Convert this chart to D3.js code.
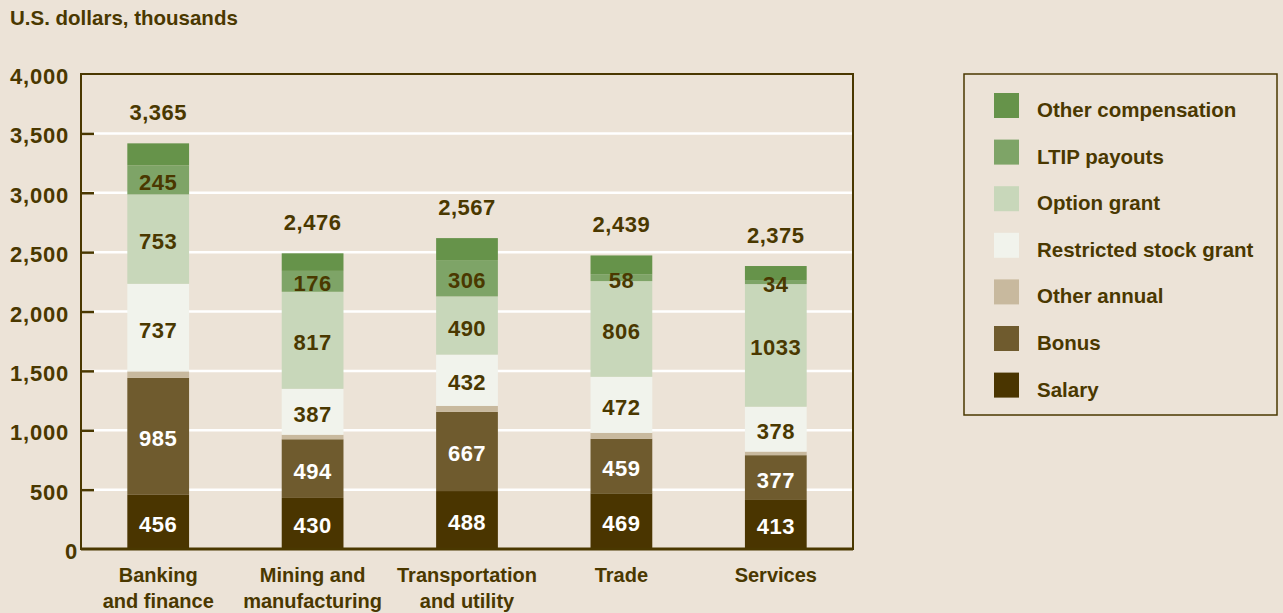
<!DOCTYPE html>
<html>
<head>
<meta charset="utf-8">
<script src="https://cdn.jsdelivr.net/npm/d3@7"></script>
<style>
  body { margin: 0; background: #ece3d7; }
  text { font-family: "Liberation Sans", Arial, sans-serif; font-weight: bold; }
</style>
</head>
<body>
<div id="chart"></div>
<script>
const categories = ["Banking\nand finance", "Mining and\nmanufacturing", "Transportation\nand utility", "Trade", "Services"];
const salary      = [456, 430, 488, 469, 413];
const bonus       = [985, 494, 667, 459, 377];
const otherAnnual = [55, 38, 50, 50, 30];
const restricted  = [737, 387, 432, 472, 378];
const optionGrant = [753, 817, 490, 806, 1033];
const ltip        = [245, 176, 306, 58, 34];
const otherComp   = [185, 148, 185, 158, 118];
const totals      = [3365, 2476, 2567, 2439, 2375];
const yTicks      = [0, 500, 1000, 1500, 2000, 2500, 3000, 3500, 4000];

const seriesNames = ["Salary", "Bonus", "Other annual", "Restricted stock grant", "Option grant", "LTIP payouts", "Other compensation"];
const seriesVals = [salary, bonus, otherAnnual, restricted, optionGrant, ltip, otherComp];
const colors = ["#4a3500", "#6f5b2e", "#c8b99e", "#f1f3ec", "#c8d7ba", "#7ea467", "#66934a"];
const labelled = [true, true, false, true, true, true, false];
const labelColor = ["#fff", "#fff", "#4a3800", "#4a3800", "#4a3800", "#4a3800", "#4a3800"];
const ink = "#4a3800";

(function () {
    let width = 1283, height = 613;
    let pl = 81, pr = 853, pt = 74, pb = 549;

    let svg = d3.select("#chart").append("svg")
        .attr("width", width)
        .attr("height", height);

    let rows = categories.map((c, i) => {
        let r = {cat: c};
        seriesNames.forEach((s, j) => r[s] = seriesVals[j][i]);
        return r;
    });
    let stacked = d3.stack().keys(seriesNames)(rows);

    let x = d3.scaleBand()
        .domain(categories)
        .range([pl, pr])
        .paddingInner(0.6)
        .paddingOuter(0.3);
    let y = d3.scaleLinear()
        .domain([0, 4000])
        .range([pb, pt]);

    // title
    svg.append("text")
        .attr("x", 10).attr("y", 25)
        .attr("font-size", "20.5px")
        .attr("fill", ink)
        .text("U.S. dollars, thousands");

    // gridlines
    svg.append("g")
        .selectAll("line")
        .data(yTicks.filter(d => d > 0 && d < 4000))
        .enter().append("line")
        .attr("x1", pl).attr("x2", pr)
        .attr("y1", d => y(d)).attr("y2", d => y(d))
        .attr("stroke", "#fff")
        .attr("stroke-width", 2.5);

    // bars
    let layers = svg.append("g").selectAll("g")
        .data(stacked)
        .enter().append("g")
        .attr("fill", (d, i) => colors[i]);
    layers.selectAll("rect")
        .data(d => d)
        .enter().append("rect")
        .attr("x", d => x(d.data.cat))
        .attr("width", x.bandwidth())
        .attr("y", d => y(d[1]))
        .attr("height", d => y(d[0]) - y(d[1]));

    // value labels
    stacked.forEach((layer, i) => {
        if (!labelled[i]) return;
        svg.append("g").selectAll("text")
            .data(layer)
            .enter().append("text")
            .attr("x", d => x(d.data.cat) + x.bandwidth() / 2)
            .attr("y", d => (y(d[0]) + y(d[1])) / 2 + 10)
            .attr("text-anchor", "middle")
            .attr("font-size", "22px")
            .attr("letter-spacing", "0.5px")
            .attr("fill", labelColor[i])
            .text(d => d[1] - d[0]);
    });

    // totals
    let topLayer = stacked[stacked.length - 1];
    svg.append("g").selectAll("text")
        .data(topLayer)
        .enter().append("text")
        .attr("x", d => x(d.data.cat) + x.bandwidth() / 2)
        .attr("y", d => y(d[1]) - 23)
        .attr("text-anchor", "middle")
        .attr("font-size", "22px")
        .attr("letter-spacing", "0.5px")
        .attr("fill", ink)
        .text((d, i) => d3.format(",")(totals[i]));

    // frame
    svg.append("rect")
        .attr("x", pl).attr("y", pt)
        .attr("width", pr - pl).attr("height", pb - pt)
        .attr("fill", "none")
        .attr("stroke", ink)
        .attr("stroke-width", 2);

    // y axis ticks (inward)
    let yAxis = svg.append("g")
        .attr("transform", `translate(${pl},0)`)
        .call(d3.axisRight(y).tickValues(yTicks.filter(d => d > 0 && d < 4000)).tickSize(13).tickFormat(""));
    yAxis.select(".domain").remove();
    yAxis.selectAll("line").attr("stroke", ink).attr("stroke-width", 2.5);

    svg.append("g").selectAll("text")
        .data(yTicks)
        .enter().append("text")
        .attr("x", d => d === 0 ? 78 : 69)
        .attr("y", d => y(d) + 10)
        .attr("text-anchor", "end")
        .attr("font-size", "22px")
        .attr("letter-spacing", "0.8px")
        .attr("fill", ink)
        .text(d => d3.format(",")(d));

    // x axis line
    svg.append("line")
        .attr("x1", pl).attr("x2", pr)
        .attr("y1", pb).attr("y2", pb)
        .attr("stroke", ink)
        .attr("stroke-width", 3);

    // x labels
    let xl = svg.append("g").selectAll("text")
        .data(categories)
        .enter().append("text")
        .attr("x", d => x(d) + x.bandwidth() / 2)
        .attr("y", 582)
        .attr("text-anchor", "middle")
        .attr("font-size", "20px")
        .attr("fill", ink);
    xl.selectAll("tspan")
        .data(d => d.split("\n"))
        .enter().append("tspan")
        .attr("x", function () { return d3.select(this.parentNode).attr("x"); })
        .attr("dy", (d, i) => i === 0 ? 0 : 26)
        .text(d => d);

    // legend
    let legend = svg.append("g");
    legend.append("rect")
        .attr("x", 964).attr("y", 74)
        .attr("width", 313).attr("height", 341)
        .attr("fill", "none")
        .attr("stroke", ink)
        .attr("stroke-width", 1.5);
    let legendOrder = seriesNames.map((s, i) => i).reverse();
    let li = legend.selectAll(".li")
        .data(legendOrder)
        .enter().append("g")
        .attr("transform", (d, i) => `translate(994,${93 + i * 46.6})`);
    li.append("rect")
        .attr("width", 25).attr("height", 25)
        .attr("fill", d => colors[d]);
    li.append("text")
        .attr("x", 43).attr("y", 24)
        .attr("font-size", "20.5px")
        .attr("fill", ink)
        .text(d => seriesNames[d]);
})();
</script>
</body>
</html>
